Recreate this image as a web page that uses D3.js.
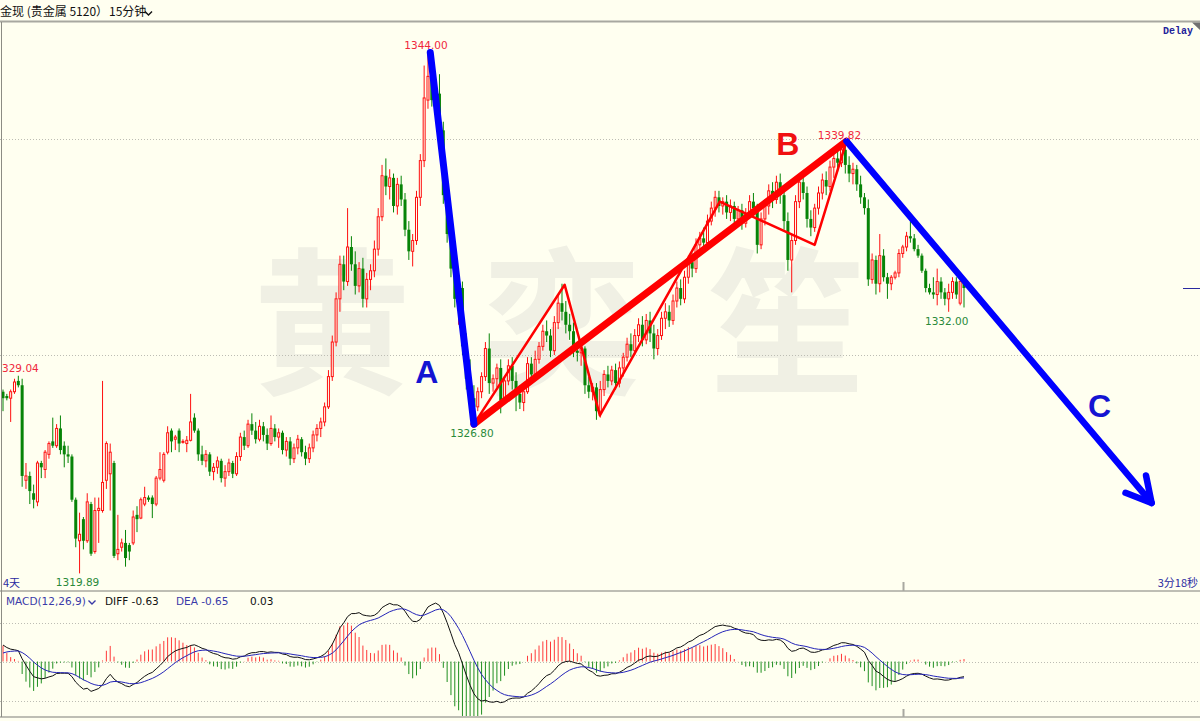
<!DOCTYPE html>
<html>
<head>
<meta charset="utf-8">
<script src="https://cdn.jsdelivr.net/npm/d3@7"></script>
<style>
  body { margin: 0; background: #fffff0; }
  svg { display: block; }
</style>
</head>
<body>
<script>
// 15 minute gold bars, [open, high, low, close], split by swing
const legStart = [
  [1328.3,1328.4,1327.4,1328.0],[1328.1,1328.2,1327.9,1328.0],[1328.0,1328.4,1326.9,1328.3],[1328.3,1328.9,1328.2,1328.75],
  [1328.8,1329.04,1328.5,1328.6],[1328.6,1328.9,1323.9,1324.4],[1324.2,1325.0,1323.8,1324.4],[1324.4,1324.6,1323.1,1323.7],
  [1323.6,1324.0,1322.9,1323.3],[1323.2,1325.1,1323.0,1325.0],[1325.0,1325.1,1324.3,1324.8],[1324.7,1325.6,1324.3,1325.5],
  [1325.4,1326.0,1325.2,1325.9],[1326.0,1327.1,1325.7,1325.8],[1325.8,1326.8,1325.7,1326.6],[1326.6,1327.2,1325.4,1325.6],
  [1325.8,1326.0,1324.8,1325.4],[1325.4,1325.8,1325.0,1325.3],[1325.3,1325.4,1323.2,1323.3],[1323.3,1323.4,1321.1,1321.5],
  [1321.4,1322.7,1319.89,1321.7],[1322.4,1322.5,1321.0,1321.4],[1321.4,1323.6,1321.3,1323.2],[1323.1,1323.2,1320.7,1320.8],
  [1320.9,1323.4,1320.8,1322.8],[1322.8,1323.4,1321.3,1322.9],[1322.8,1328.8,1322.7,1324.1],[1324.2,1326.0,1323.8,1325.9],
  [1324.5,1325.9,1322.8,1325.5],[1325.0,1325.1,1320.6,1320.7],[1320.8,1322.6,1320.5,1321.0],[1321.1,1321.5,1320.9,1321.3],
  [1321.3,1321.9,1320.2,1320.6],[1321.2,1321.3,1320.5,1320.9],[1321.3,1322.8,1321.2,1322.5],[1322.6,1323.0,1321.8,1322.4],
  [1322.45,1323.4,1322.4,1323.3],[1323.1,1323.9,1323.0,1323.4],[1323.4,1323.5,1323.2,1323.3],[1323.4,1323.5,1322.45,1323.1],
  [1323.1,1324.4,1323.0,1324.3],[1324.3,1325.5,1324.2,1324.7],[1324.2,1325.5,1324.1,1325.4],[1325.5,1326.7,1325.4,1326.4],
  [1326.5,1326.6,1325.5,1326.0],[1326.1,1326.3,1325.6,1326.2],[1326.5,1326.6,1325.5,1325.9],[1326.0,1326.1,1325.9,1326.0],
  [1325.9,1326.25,1325.5,1326.05],[1326.05,1328.2,1326.0,1326.9],[1327.1,1327.3,1326.4,1326.5],[1326.5,1326.6,1325.1,1325.4]
];
const legRange = [
  [1325.4,1325.8,1324.9,1325.1],[1325.1,1325.6,1324.8,1325.4],[1325.4,1325.5,1324.4,1324.6],[1324.6,1325.0,1324.2,1324.8],
  [1324.8,1325.3,1324.5,1325.1],[1325.1,1325.2,1324.1,1324.3],[1324.3,1324.9,1323.9,1324.6],[1324.6,1325.2,1324.4,1325.0],
  [1325.0,1325.1,1324.3,1324.5],[1324.5,1325.5,1324.4,1325.3],[1325.3,1326.4,1325.1,1326.2],[1326.2,1326.5,1325.6,1325.8],
  [1325.8,1327.0,1325.7,1326.8],[1326.8,1327.3,1326.3,1326.5],[1326.5,1326.9,1325.9,1326.1],[1326.1,1327.0,1326.0,1326.7],
  [1326.7,1326.9,1326.0,1326.3],[1326.3,1326.6,1325.6,1325.9],[1325.9,1327.2,1325.8,1326.6],[1326.6,1326.8,1326.0,1326.2],
  [1326.2,1326.6,1325.7,1326.4],[1326.4,1326.5,1325.4,1325.6],[1325.6,1326.2,1325.3,1326.0],[1326.0,1326.2,1324.9,1325.2],
  [1325.2,1325.9,1325.0,1325.7],[1325.7,1326.3,1325.4,1326.1],[1326.1,1326.2,1325.3,1325.5],[1325.5,1325.8,1324.9,1325.2],
  [1325.2,1325.9,1325.0,1325.7],[1325.7,1326.5,1325.5,1326.3],[1326.3,1326.8,1326.0,1326.6],[1326.6,1327.1,1326.2,1326.9],
  [1326.9,1327.8,1326.7,1327.6]
];
const legRally = [
  [1327.6,1329.3,1327.5,1329.0],[1329.0,1330.9,1328.8,1330.6],[1330.6,1332.9,1330.4,1332.6],[1332.6,1334.6,1332.0,1334.2],
  [1334.2,1334.6,1333.0,1333.4],[1333.4,1336.8,1333.2,1335.0],[1335.0,1335.5,1333.9,1334.2],[1334.2,1334.8,1332.8,1333.2],
  [1333.2,1334.3,1332.9,1334.0],[1334.0,1334.5,1332.2,1332.6],[1332.6,1333.8,1332.2,1333.5],[1333.5,1334.2,1333.0,1333.9],
  [1333.9,1335.3,1333.6,1334.9],[1334.9,1336.8,1334.6,1336.4],[1336.4,1338.8,1336.2,1338.3],[1338.3,1339.1,1337.4,1337.8],
  [1337.8,1338.6,1337.2,1338.2],[1338.2,1338.4,1336.6,1336.9],[1336.9,1338.2,1336.5,1337.9],[1337.9,1338.3,1336.9,1337.2],
  [1337.2,1337.5,1335.5,1335.8],[1335.8,1336.2,1334.4,1334.8],[1334.8,1335.6,1334.1,1335.3],[1335.3,1337.6,1335.1,1337.3],
  [1337.3,1339.3,1336.9,1339.0],[1339.0,1343.4,1338.7,1341.9],[1341.8,1344.0,1341.4,1342.9]
];
const legDrop = [
  [1342.9,1343.2,1341.5,1341.8],[1341.8,1342.6,1340.8,1342.1],[1342.1,1343.0,1340.0,1340.4],[1340.4,1340.8,1337.0,1337.4],
  [1337.4,1338.2,1335.2,1335.6],[1335.6,1336.4,1333.6,1334.0],[1334.0,1334.8,1332.2,1332.6],[1332.6,1333.6,1331.4,1333.1],
  [1333.1,1333.4,1330.0,1330.4],[1330.4,1331.0,1328.4,1328.9],[1328.9,1329.8,1327.6,1328.0],[1328.0,1328.6,1326.8,1327.6]
];
const legWave1 = [
  [1327.6,1328.5,1327.4,1328.3],[1328.3,1329.2,1328.0,1329.0],[1329.0,1330.6,1328.8,1330.3],[1330.3,1331.0,1328.2,1328.7],
  [1328.7,1329.1,1328.3,1328.9],[1328.9,1329.6,1328.5,1329.4],[1329.4,1329.8,1327.3,1327.9],[1327.9,1329.0,1327.7,1328.8],
  [1328.8,1329.8,1328.6,1329.5],[1329.5,1329.9,1328.4,1328.8],[1328.8,1329.2,1327.4,1328.2],[1328.2,1328.6,1327.5,1327.8],
  [1327.8,1328.5,1327.4,1328.3],[1328.3,1329.9,1328.2,1329.6],[1329.6,1329.9,1328.8,1329.1],[1329.1,1330.2,1329.0,1329.8],
  [1329.8,1330.6,1329.6,1330.4],[1330.4,1331.4,1330.2,1331.1],[1331.1,1331.6,1330.6,1330.9],[1330.9,1331.2,1329.9,1330.2],
  [1330.2,1331.8,1330.0,1331.5],[1331.5,1332.8,1331.2,1332.4],[1332.4,1333.3,1331.6,1332.0],
  [1332.0,1332.5,1331.0,1331.4],[1331.4,1331.9,1330.7,1331.1],[1331.1,1331.5,1329.9,1330.2],[1330.2,1330.6,1329.7,1330.1],
  [1330.1,1330.6,1329.5,1330.3],[1330.3,1330.4,1328.2,1328.6],[1328.6,1329.0,1328.0,1328.3],[1328.3,1328.7,1327.9,1328.5],
  [1328.5,1328.7,1327.0,1327.4],[1327.4,1328.8,1327.1,1328.4]
];
const legWave2 = [
  [1328.4,1329.3,1328.1,1329.1],[1329.1,1329.5,1328.5,1328.8],[1328.8,1329.5,1328.6,1329.3],[1329.3,1329.6,1328.4,1328.7],
  [1328.7,1329.7,1328.5,1329.4],[1329.4,1330.1,1329.0,1329.9],[1329.9,1330.8,1329.7,1330.5],[1330.5,1331.0,1329.9,1330.2],
  [1330.2,1331.2,1330.0,1330.9],[1330.9,1331.7,1330.6,1331.4],[1331.4,1331.8,1330.4,1330.7],[1330.7,1331.9,1330.5,1331.6],
  [1331.6,1332.0,1330.6,1331.0],[1331.0,1331.4,1329.8,1330.3],[1330.3,1331.2,1330.0,1330.9],[1330.9,1332.0,1330.7,1331.7],
  [1331.7,1332.4,1331.2,1332.0],[1332.0,1332.3,1331.3,1331.6],[1331.6,1332.8,1331.4,1332.5],[1332.5,1333.4,1332.2,1333.1],
  [1333.1,1333.5,1332.3,1332.6],[1332.6,1333.9,1332.4,1333.6],[1333.6,1334.6,1333.3,1334.3],[1334.3,1334.7,1333.6,1334.0],
  [1334.0,1335.4,1333.8,1335.1],[1335.1,1335.7,1334.6,1335.4],[1335.4,1335.9,1334.9,1335.2],[1335.2,1336.5,1335.0,1336.2],
  [1336.2,1337.1,1336.0,1336.8],[1336.8,1337.6,1336.4,1337.3]
];
const legTop = [
  [1337.3,1337.6,1336.6,1336.9],[1336.9,1337.3,1336.5,1337.1],[1337.1,1337.4,1336.3,1336.6],[1336.6,1337.2,1336.2,1336.9],
  [1336.9,1337.1,1336.0,1336.3],[1336.3,1336.9,1336.0,1336.7],[1336.7,1337.0,1335.8,1336.1],[1336.1,1336.8,1335.9,1336.5],
  [1336.5,1337.4,1336.3,1337.1],[1337.1,1337.5,1336.5,1336.8],[1336.8,1337.0,1334.7,1335.1],[1335.1,1336.6,1334.9,1336.3],
  [1336.3,1337.2,1336.0,1336.9],[1336.9,1337.9,1336.5,1337.6],[1337.6,1338.0,1336.8,1337.2],[1337.2,1338.3,1337.0,1338.0],
  [1338.0,1338.4,1337.0,1337.4],[1337.4,1337.8,1335.8,1336.2],[1336.2,1336.6,1333.9,1334.4],[1334.4,1335.6,1332.9,1335.3],
  [1335.3,1337.4,1335.1,1337.1],[1337.1,1338.3,1336.8,1338.0],[1338.0,1338.4,1337.2,1337.5],[1337.5,1337.8,1335.9,1336.3],
  [1336.3,1336.7,1335.5,1335.9],[1335.9,1337.0,1335.7,1336.8],[1336.8,1337.8,1336.5,1337.5],[1337.5,1338.4,1337.2,1338.1],
  [1338.1,1338.5,1337.4,1337.8],[1337.8,1339.0,1337.6,1338.7],[1338.7,1339.4,1338.2,1339.1],[1339.1,1339.5,1338.5,1338.9],
  [1338.9,1339.82,1338.7,1339.5],[1339.5,1339.7,1338.4,1338.8]
];
const legTail = [
  [1338.8,1339.2,1338.0,1338.4],[1338.4,1338.9,1337.9,1338.6],[1338.6,1338.8,1337.6,1337.9],[1337.9,1338.3,1337.0,1337.3],
  [1337.3,1337.5,1336.5,1336.8],[1336.8,1337.2,1333.2,1333.5],[1333.5,1334.7,1333.3,1334.4],[1334.4,1334.6,1332.8,1333.3],
  [1333.3,1335.6,1332.9,1334.6],[1334.6,1334.9,1333.4,1333.6],[1333.6,1333.8,1332.6,1333.3],[1333.3,1333.7,1333.0,1333.6],
  [1333.6,1333.9,1333.5,1333.8],[1333.8,1334.9,1333.6,1334.7],[1334.7,1335.1,1334.5,1335.0],[1335.0,1335.7,1334.8,1335.5],
  [1335.5,1336.2,1335.2,1335.4],[1335.4,1335.6,1334.8,1334.9],[1334.9,1335.1,1334.5,1334.6],[1334.6,1334.7,1333.8,1333.9],
  [1333.9,1334.0,1332.9,1333.1],[1333.1,1333.3,1332.8,1332.9],[1332.9,1333.6,1332.6,1332.8],[1332.8,1334.0,1332.3,1333.4],
  [1333.4,1333.6,1332.6,1332.9],[1332.9,1333.1,1332.3,1332.6],[1332.6,1333.3,1332.0,1332.9],[1332.9,1333.6,1332.6,1333.4],
  [1333.4,1333.6,1332.6,1332.8],[1332.4,1333.6,1332.3,1333.4],[1333.4,1333.5,1332.2,1333.1]
];

// extremes tagged by the terminal: [bar index, text shown]
const highTags = [[4, '329.04'], [111, '1344.00'], [219, '1339.82']];
const lowTags = [[20, '1319.89'], [123, '1326.80'], [247, '1332.00']];

// hand drawn wave notes: [bar index, price]
const waveA = [[111.6, 1344.0], [123, 1326.8]];
const waveB = [[123, 1326.8], [220.3, 1339.9]];
const waveSub = [[123, 1326.8], [146.7, 1333.25], [155.9, 1327.2], [187.2, 1337.1], [212, 1335.1], [220.3, 1339.9]];
const waveC = [[220.3, 1339.9], [300, 1323.15]];
const waveLetters = [
  { t: 'A', i: 110.7, p: 1328.7, c: '#1414d2' },
  { t: 'B', i: 205, p: 1339.25, c: '#f01010' },
  { t: 'C', i: 286.4, p: 1327.15, c: '#1414d2' }
];

const priceTicks = [1330, 1340];
const macdTicks = [-1.8, 0, 1.8];
const macdSeed = { diff: 0.9, dea: 0.3 };
const dayBreak = 235.2;

const bars = [].concat(legStart, legRange, legRally, legDrop, legWave1, legWave2, legTop, legTail)
  .map(([o, h, l, c], i) => ({ i, o, h, l, c }));

const W = 1200, H = 721;
const RED = '#ff1010', GREEN = '#078407', BG = '#fffff0', NAVY = '#2a2aa0';

const x = d3.scaleLinear().domain([0, bars.length - 1]).range([3, 964]);
const y = d3.scaleLinear().domain([1330, 1340]).range([355, 139]);
const my = d3.scaleLinear().domain([-1.8, 1.8]).range([700.5, 622.5]);

const svg = d3.select('body').append('svg')
  .attr('width', W).attr('height', H);

svg.append('defs').append('clipPath').attr('id', 'macd-pane')
  .append('rect').attr('x', 0).attr('y', 592).attr('width', W).attr('height', 124);

svg.append('rect').attr('width', W).attr('height', H).attr('fill', BG);

// watermark
svg.append('g')
  .attr('font-family', '"Noto Sans CJK SC", sans-serif')
  .attr('font-weight', 700)
  .attr('font-size', 158)
  .attr('fill', '#f0f0e4')
  .attr('text-anchor', 'middle')
  .selectAll('text')
  .data([['黄', 332], ['奕', 562], ['笙', 787]])
  .enter().append('text')
    .attr('x', d => d[1])
    .attr('y', 382)
    .text(d => d[0]);

// dotted grid
const grid = svg.append('g')
  .attr('stroke', '#bdbdb4')
  .attr('stroke-dasharray', '1,2');
grid.selectAll('.pg').data(priceTicks).enter().append('line')
  .attr('x1', 0).attr('x2', W)
  .attr('y1', d => Math.round(y(d)) + 0.5).attr('y2', d => Math.round(y(d)) + 0.5);
grid.selectAll('.mg').data(macdTicks).enter().append('line')
  .attr('x1', 0).attr('x2', W)
  .attr('y1', d => Math.round(my(d)) + 0.5).attr('y2', d => Math.round(my(d)) + 0.5);

// candles
const candles = svg.append('g').selectAll('g')
  .data(bars)
  .enter().append('g');

candles.append('line')
  .attr('x1', d => x(d.i)).attr('x2', d => x(d.i))
  .attr('y1', d => y(d.h)).attr('y2', d => y(d.l))
  .attr('stroke', d => d.c >= d.o ? RED : GREEN)
  .attr('stroke-width', 1);

candles.append('rect')
  .attr('x', d => d.c >= d.o ? x(d.i) - 1 : x(d.i) - 1.5)
  .attr('width', d => d.c >= d.o ? 2 : 3)
  .attr('y', d => y(Math.max(d.o, d.c)))
  .attr('height', d => Math.max(1, y(Math.min(d.o, d.c)) - y(Math.max(d.o, d.c))))
  .attr('fill', d => d.c >= d.o ? BG : GREEN)
  .attr('stroke', d => d.c >= d.o ? RED : 'none')
  .attr('stroke-width', 1);

// MACD(12,26,9)
let e12 = bars[0].c + macdSeed.diff, e26 = bars[0].c, dea = macdSeed.dea;
const macd = bars.map(b => {
  e12 += (b.c - e12) * 2 / 13;
  e26 += (b.c - e26) * 2 / 27;
  const diff = e12 - e26;
  dea += (diff - dea) * 2 / 10;
  return { i: b.i, diff, dea, hist: 2 * (diff - dea) };
});

const pane = svg.append('g').attr('clip-path', 'url(#macd-pane)');
pane.append('g').selectAll('line')
  .data(macd)
  .enter().append('line')
    .attr('x1', d => x(d.i)).attr('x2', d => x(d.i))
    .attr('y1', my(0)).attr('y2', d => my(d.hist))
    .attr('stroke', d => d.hist >= 0 ? '#ff3838' : '#1f8f1f')
    .attr('stroke-width', 1);

pane.append('path')
  .datum(macd)
  .attr('fill', 'none').attr('stroke', '#111').attr('stroke-width', 1)
  .attr('d', d3.line().x(d => x(d.i)).y(d => my(d.diff)));
pane.append('path')
  .datum(macd)
  .attr('fill', 'none').attr('stroke', '#2424b8').attr('stroke-width', 1)
  .attr('d', d3.line().x(d => x(d.i)).y(d => my(d.dea)));

// wave notes
const wline = d3.line().x(d => x(d[0])).y(d => y(d[1]));
const notes = svg.append('g').attr('fill', 'none').attr('stroke-linecap', 'round').attr('stroke-linejoin', 'round');
notes.append('path').attr('d', wline(waveSub)).attr('stroke', '#ff0000').attr('stroke-width', 2.5);
notes.append('path').attr('d', wline(waveB)).attr('stroke', '#ff0000').attr('stroke-width', 7);
notes.append('path').attr('d', wline(waveA)).attr('stroke', '#0000ff').attr('stroke-width', 7);
notes.append('path').attr('d', wline(waveC)).attr('stroke', '#0000ff').attr('stroke-width', 6.5);

// arrow head at the end of C
const tip = [x(waveC[1][0]), y(waveC[1][1])];
const back = Math.atan2(y(waveC[0][1]) - tip[1], x(waveC[0][0]) - tip[0]);
const wing = a => [tip[0] + 28 * Math.cos(back + a), tip[1] + 28 * Math.sin(back + a)];
notes.append('path')
  .attr('d', d3.line()([wing(0.5), tip, wing(-0.5)]))
  .attr('stroke', '#0000ff').attr('stroke-width', 6.5);

svg.append('g')
  .attr('font-family', '"Liberation Sans", Arial, sans-serif')
  .attr('font-weight', 700)
  .attr('font-size', 32)
  .attr('text-anchor', 'middle')
  .selectAll('text')
  .data(waveLetters)
  .enter().append('text')
    .attr('x', d => x(d.i))
    .attr('y', d => y(d.p))
    .attr('fill', d => d.c)
    .text(d => d.t);

// high / low price tags
const tags = svg.append('g')
  .attr('font-family', '"DejaVu Sans", Verdana, sans-serif')
  .attr('font-size', 10.5);
tags.selectAll('.hi').data(highTags).enter().append('text')
  .attr('x', d => Math.max(2, x(d[0]) - 2 - d[1].length * 3.1))
  .attr('y', d => y(bars[d[0]].h) - 4)
  .attr('fill', '#f0283c')
  .text(d => d[1]);
tags.selectAll('.lo').data(lowTags).enter().append('text')
  .attr('x', d => Math.max(2, x(d[0]) - 2 - d[1].length * 3.1))
  .attr('y', d => y(bars[d[0]].l) + 13)
  .attr('fill', '#2a8a3a')
  .text(d => d[1]);

// last price marker on the right edge
svg.append('line')
  .attr('x1', 1183).attr('x2', W)
  .attr('y1', Math.round(y(bars[bars.length - 1].c)) + 0.5)
  .attr('y2', Math.round(y(bars[bars.length - 1].c)) + 0.5)
  .attr('stroke', NAVY);

// frame
const frame = svg.append('g').attr('stroke', '#a8a8a0');
frame.append('line').attr('x1', 0).attr('x2', W).attr('y1', 21.5).attr('y2', 21.5).attr('stroke-width', 2);
frame.append('line').attr('x1', 0).attr('x2', W).attr('y1', 591).attr('y2', 591).attr('stroke-width', 1.5);
frame.append('line').attr('x1', 0).attr('x2', W).attr('y1', 717).attr('y2', 717).attr('stroke-width', 1.5);
frame.append('line').attr('x1', 1.5).attr('x2', 1.5).attr('y1', 22).attr('y2', 717).attr('stroke', '#8c8c84');
frame.append('line').attr('x1', x(dayBreak)).attr('x2', x(dayBreak)).attr('y1', 582).attr('y2', 591).attr('stroke-width', 2);
frame.append('line').attr('x1', x(dayBreak)).attr('x2', x(dayBreak)).attr('y1', 709).attr('y2', 717).attr('stroke-width', 2);
svg.append('path').attr('d', 'M1192,22.5L1200,22.5L1200,30Z').attr('fill', '#707070');

// header texts
const cjk = '"Noto Sans CJK SC", sans-serif';
svg.append('text').attr('x', 0).attr('y', 16).attr('font-family', cjk).attr('font-size', 12)
  .attr('fill', '#111').text('金现 (贵金属 5120）');
svg.append('text').attr('x', 109).attr('y', 16).attr('font-family', cjk).attr('font-size', 12)
  .attr('fill', '#111').text('15分钟');
svg.append('path').attr('d', 'M145,11.5L148.5,15L152,11.5').attr('fill', 'none')
  .attr('stroke', '#111').attr('stroke-width', 1.4);

svg.append('text').attr('x', 1163).attr('y', 34)
  .attr('font-family', '"Liberation Mono", "DejaVu Sans Mono", monospace')
  .attr('font-size', 10).attr('font-weight', 700)
  .attr('fill', '#22229a').text('Delay');

svg.append('text').attr('x', 3).attr('y', 587).attr('font-family', cjk).attr('font-size', 11)
  .attr('fill', NAVY).text('4天');
svg.append('text').attr('x', 1198).attr('y', 587).attr('text-anchor', 'end')
  .attr('font-family', cjk).attr('font-size', 11).attr('fill', NAVY).text('3分18秒');

const mh = svg.append('g').attr('font-family', '"DejaVu Sans", Verdana, sans-serif').attr('font-size', 10.5);
mh.append('text').attr('x', 6).attr('y', 605).attr('fill', '#3a3aa8').text('MACD(12,26,9)');
mh.append('path').attr('d', 'M88.5,600.5L92,604L95.5,600.5').attr('fill', 'none')
  .attr('stroke', '#3a3aa8').attr('stroke-width', 1.4);
mh.append('text').attr('x', 105).attr('y', 605).attr('fill', '#111').text('DIFF -0.63');
mh.append('text').attr('x', 176).attr('y', 605).attr('fill', '#3a3aa8').text('DEA -0.65');
mh.append('text').attr('x', 250).attr('y', 605).attr('fill', '#111').text('0.03');
</script>
</body>
</html>
